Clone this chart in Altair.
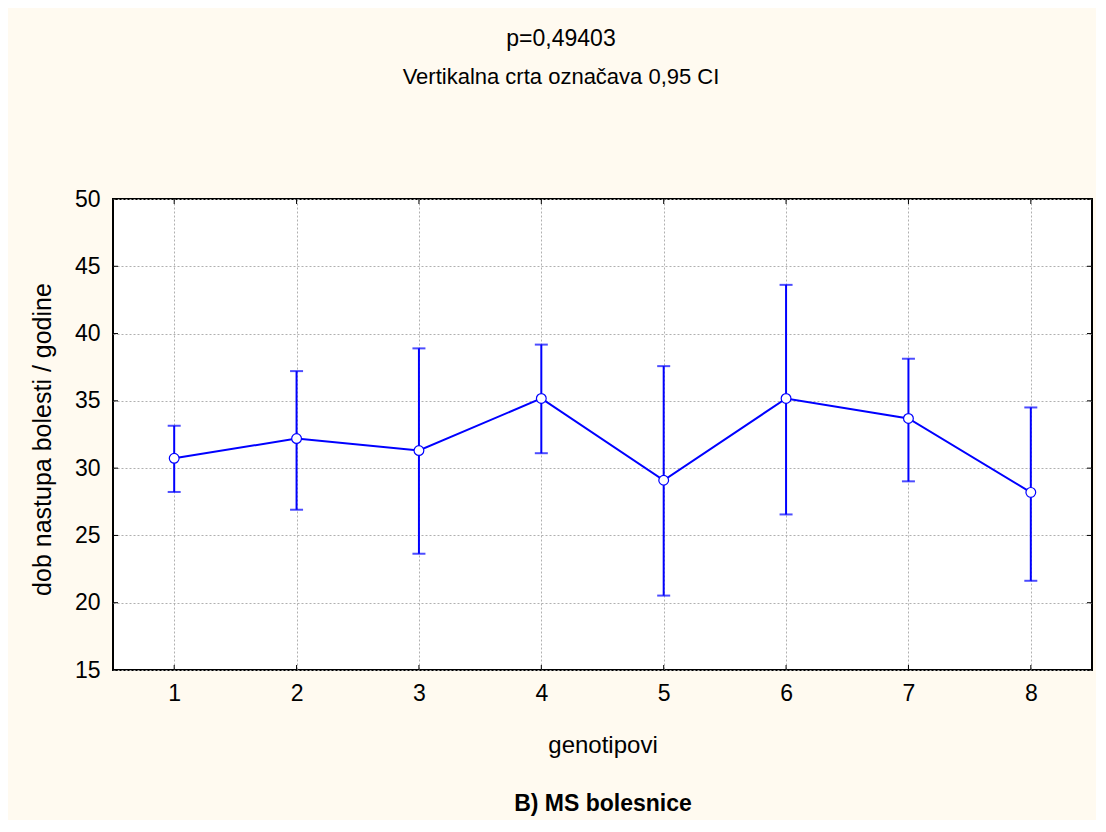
import altair as alt
import pandas as pd

# ---- data ----
genotipovi = [1, 2, 3, 4, 5, 6, 7, 8]
srednja = [30.73, 32.20, 31.31, 35.18, 29.10, 35.18, 33.69, 28.20]
donja = [28.23, 26.91, 23.64, 31.11, 20.53, 26.56, 29.02, 21.63]
gornja = [33.15, 37.21, 38.90, 39.18, 37.58, 43.62, 38.13, 34.51]

x_ticks = [1, 2, 3, 4, 5, 6, 7, 8]
y_ticks = [15, 20, 25, 30, 35, 40, 45, 50]

title_lines = ["p=0,49403", "Vertikalna crta označava 0,95 CI"]
caption = "B) MS bolesnice"
x_title = "genotipovi"
y_title = "dob nastupa bolesti / godine"

FONT = "Liberation Sans"
BLUE = "#0000ff"
W, H = 979, 471

df = pd.DataFrame({"g": genotipovi, "m": srednja, "lo": donja, "hi": gornja})
dfx = pd.DataFrame({"g": x_ticks})
dfy = pd.DataFrame({"m": y_ticks})

x_scale = alt.Scale(domain=[0.5, 8.5], nice=False, zero=False)
y_scale = alt.Scale(domain=[15, 50], nice=False, zero=False)

x_axis = alt.Axis(
    values=x_ticks, format="d", grid=True, gridDash=[2, 2], gridColor="#b0b0b0",
    gridWidth=1, ticks=False, domain=False, labelFont=FONT, labelFontSize=23,
    labelColor="black", labelPadding=12, title=x_title, titleFont=FONT,
    titleFontSize=24, titleFontWeight="normal", titleColor="black",
    titleY=82, titleBaseline="alphabetic",
)
y_axis = alt.Axis(
    values=y_ticks, format="d", grid=True, gridDash=[2, 2], gridColor="#b0b0b0",
    gridWidth=1, ticks=False, domain=False, labelFont=FONT, labelFontSize=23,
    labelColor="black", labelPadding=13, title=y_title, titleFont=FONT,
    titleFontSize=25, titleFontWeight="normal", titleColor="black",
    titleX=-63, titleY=240, titleBaseline="alphabetic", titleAlign="center",
)

X = alt.X("g:Q", scale=x_scale, axis=x_axis)
Y = alt.Y("m:Q", scale=y_scale, axis=y_axis)

base = alt.Chart(df)

line = base.mark_line(color=BLUE, strokeWidth=2).encode(x=X, y=Y)
err = base.mark_rule(color=BLUE, strokeWidth=2).encode(
    x=X, y=alt.Y("lo:Q", scale=y_scale, axis=y_axis), y2="hi:Q"
)
cap_hi = base.mark_tick(orient="horizontal", size=13, thickness=2, color=BLUE).encode(
    x=X, y=alt.Y("hi:Q", scale=y_scale, axis=y_axis)
)
cap_lo = base.mark_tick(orient="horizontal", size=13, thickness=2, color=BLUE).encode(
    x=X, y=alt.Y("lo:Q", scale=y_scale, axis=y_axis)
)
pts = base.mark_point(
    shape="circle", filled=True, fill="white", stroke=BLUE, strokeWidth=1.2,
    size=95, opacity=1,
).encode(x=X, y=Y)

# inward axis tick marks (bottom, top, left, right)
tick_b = alt.Chart(dfx).mark_rule(color="black", strokeWidth=1).encode(
    x=X, y=alt.value(H), y2=alt.value(H - 5))
tick_t = alt.Chart(dfx).mark_rule(color="black", strokeWidth=1).encode(
    x=X, y=alt.value(0), y2=alt.value(5))
tick_l = alt.Chart(dfy).mark_rule(color="black", strokeWidth=1).encode(
    y=Y, x=alt.value(0), x2=alt.value(5))
tick_r = alt.Chart(dfy).mark_rule(color="black", strokeWidth=1).encode(
    y=Y, x=alt.value(W), x2=alt.value(W - 5))

t1 = alt.Chart(pd.DataFrame({"t": [title_lines[0]]})).mark_text(
    font=FONT, fontSize=23, color="black", align="center", baseline="alphabetic"
).encode(text="t:N", x=alt.value(448), y=alt.value(-153))
t2 = alt.Chart(pd.DataFrame({"t": [title_lines[1]]})).mark_text(
    font=FONT, fontSize=22, color="black", align="center", baseline="alphabetic"
).encode(text="t:N", x=alt.value(448), y=alt.value(-115))
t3 = alt.Chart(pd.DataFrame({"t": [caption]})).mark_text(
    font=FONT, fontSize=23, fontWeight="bold", color="black", align="center",
    baseline="alphabetic"
).encode(text="t:N", x=alt.value(490), y=alt.value(612))

chart = alt.layer(
    line, err, cap_hi, cap_lo, pts, tick_b, tick_t, tick_l, tick_r, t1, t2, t3
).properties(
    width=W, height=H,
    autosize=alt.AutoSizeParams(type="none"),
    padding={"left": 105, "top": 191, "right": 4, "bottom": 150},
    background="#fffaf0",
).configure_view(
    stroke="black", strokeWidth=2, fill="white"
)

chart.save("out.html", embed_options={"renderer": "svg", "actions": False})
